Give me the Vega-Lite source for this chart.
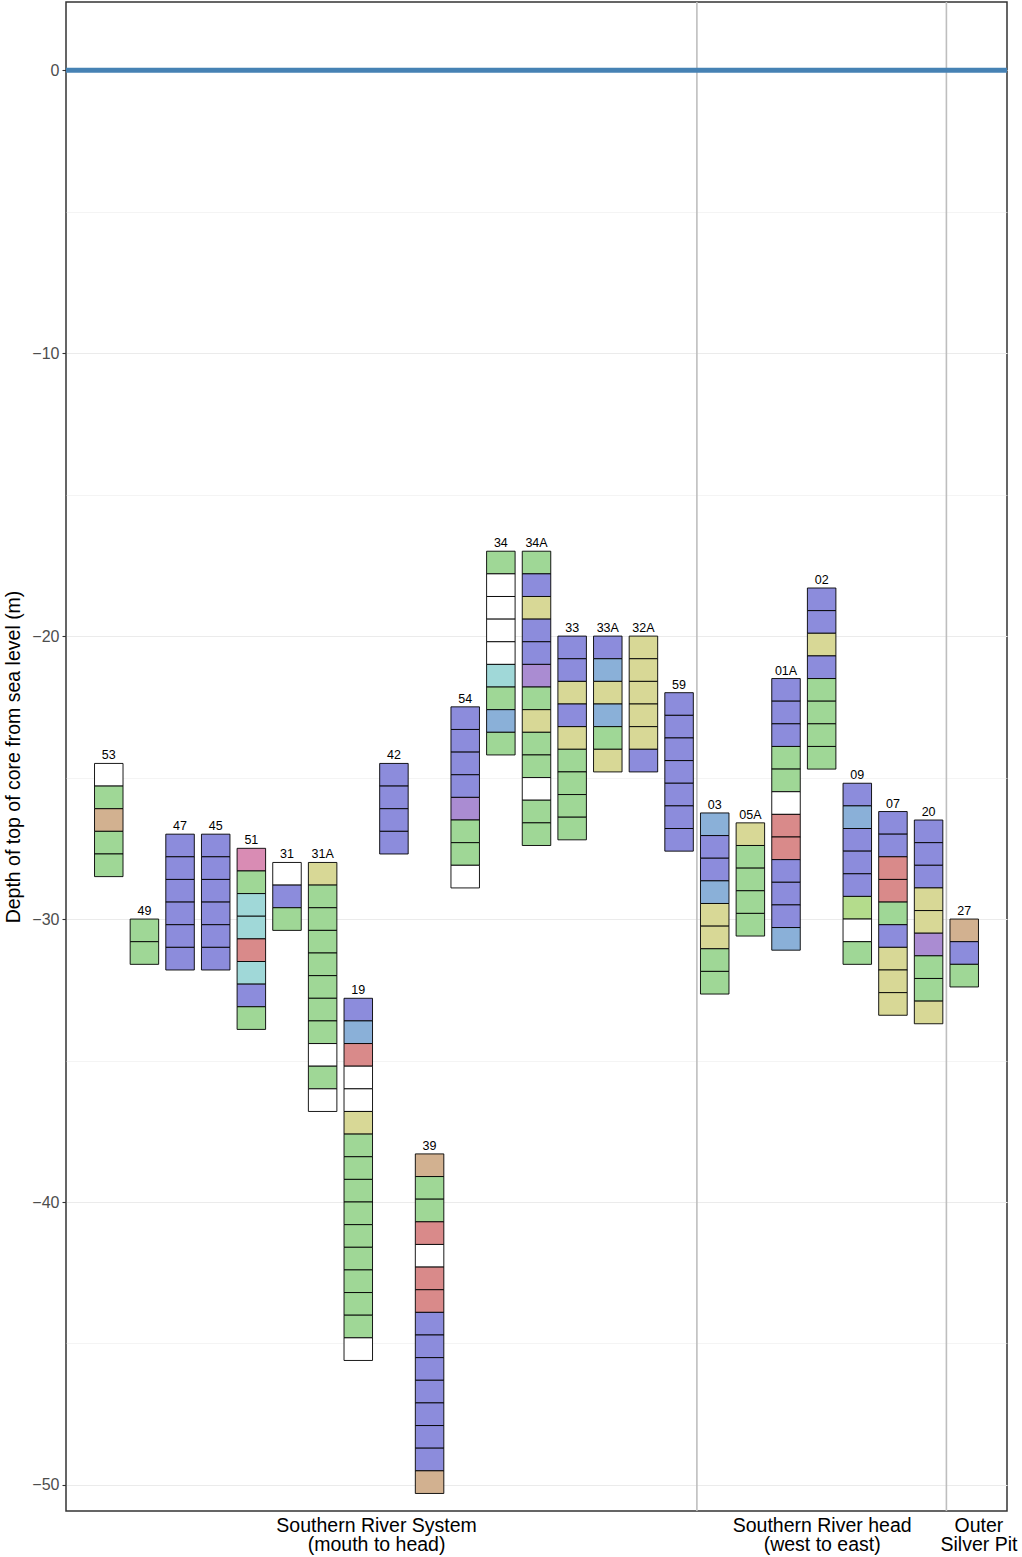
{
  "$schema": "https://vega.github.io/schema/vega-lite/v6.json",
  "width": 1022,
  "height": 1557,
  "autosize": {"type": "fit", "contains": "padding"},
  "padding": {"left": 3, "top": 1, "right": 7, "bottom": 3},
  "background": "#ffffff",
  "config": {
    "font": "Liberation Sans",
    "view": {"stroke": "#333333", "strokeWidth": 1.5}
  },
  "datasets": {
    "cores": [
      {"core": "53", "pos": 1, "top": -24.5},
      {"core": "49", "pos": 2, "top": -30.0},
      {"core": "47", "pos": 3, "top": -27.0},
      {"core": "45", "pos": 4, "top": -27.0},
      {"core": "51", "pos": 5, "top": -27.5},
      {"core": "31", "pos": 6, "top": -28.0},
      {"core": "31A", "pos": 7, "top": -28.0},
      {"core": "19", "pos": 8, "top": -32.8},
      {"core": "42", "pos": 9, "top": -24.5},
      {"core": "39", "pos": 10, "top": -38.3},
      {"core": "54", "pos": 11, "top": -22.5},
      {"core": "34", "pos": 12, "top": -17.0},
      {"core": "34A", "pos": 13, "top": -17.0},
      {"core": "33", "pos": 14, "top": -20.0},
      {"core": "33A", "pos": 15, "top": -20.0},
      {"core": "32A", "pos": 16, "top": -20.0},
      {"core": "59", "pos": 17, "top": -22.0},
      {"core": "03", "pos": 18, "top": -26.25},
      {"core": "05A", "pos": 19, "top": -26.6},
      {"core": "01A", "pos": 20, "top": -21.5},
      {"core": "02", "pos": 21, "top": -18.3},
      {"core": "09", "pos": 22, "top": -25.2},
      {"core": "07", "pos": 23, "top": -26.2},
      {"core": "20", "pos": 24, "top": -26.5},
      {"core": "27", "pos": 25, "top": -30.0}
    ],
    "boundaries": [
      {"between": "59 | 03", "at": 17.5},
      {"between": "20 | 27", "at": 24.5}
    ],
    "segments": [
      {"core": "53", "top": -24.5, "bottom": -25.3, "unit": "W"},
      {"core": "53", "top": -25.3, "bottom": -26.1, "unit": "G"},
      {"core": "53", "top": -26.1, "bottom": -26.9, "unit": "T"},
      {"core": "53", "top": -26.9, "bottom": -27.7, "unit": "G"},
      {"core": "53", "top": -27.7, "bottom": -28.5, "unit": "G"},

      {"core": "49", "top": -30.0, "bottom": -30.8, "unit": "G"},
      {"core": "49", "top": -30.8, "bottom": -31.6, "unit": "G"},

      {"core": "47", "top": -27.0, "bottom": -27.8, "unit": "P"},
      {"core": "47", "top": -27.8, "bottom": -28.6, "unit": "P"},
      {"core": "47", "top": -28.6, "bottom": -29.4, "unit": "P"},
      {"core": "47", "top": -29.4, "bottom": -30.2, "unit": "P"},
      {"core": "47", "top": -30.2, "bottom": -31.0, "unit": "P"},
      {"core": "47", "top": -31.0, "bottom": -31.8, "unit": "P"},

      {"core": "45", "top": -27.0, "bottom": -27.8, "unit": "P"},
      {"core": "45", "top": -27.8, "bottom": -28.6, "unit": "P"},
      {"core": "45", "top": -28.6, "bottom": -29.4, "unit": "P"},
      {"core": "45", "top": -29.4, "bottom": -30.2, "unit": "P"},
      {"core": "45", "top": -30.2, "bottom": -31.0, "unit": "P"},
      {"core": "45", "top": -31.0, "bottom": -31.8, "unit": "P"},

      {"core": "51", "top": -27.5, "bottom": -28.3, "unit": "K"},
      {"core": "51", "top": -28.3, "bottom": -29.1, "unit": "G"},
      {"core": "51", "top": -29.1, "bottom": -29.9, "unit": "C"},
      {"core": "51", "top": -29.9, "bottom": -30.7, "unit": "C"},
      {"core": "51", "top": -30.7, "bottom": -31.5, "unit": "R"},
      {"core": "51", "top": -31.5, "bottom": -32.3, "unit": "C"},
      {"core": "51", "top": -32.3, "bottom": -33.1, "unit": "P"},
      {"core": "51", "top": -33.1, "bottom": -33.9, "unit": "G"},

      {"core": "31", "top": -28.0, "bottom": -28.8, "unit": "W"},
      {"core": "31", "top": -28.8, "bottom": -29.6, "unit": "P"},
      {"core": "31", "top": -29.6, "bottom": -30.4, "unit": "G"},

      {"core": "31A", "top": -28.0, "bottom": -28.8, "unit": "Y"},
      {"core": "31A", "top": -28.8, "bottom": -29.6, "unit": "G"},
      {"core": "31A", "top": -29.6, "bottom": -30.4, "unit": "G"},
      {"core": "31A", "top": -30.4, "bottom": -31.2, "unit": "G"},
      {"core": "31A", "top": -31.2, "bottom": -32.0, "unit": "G"},
      {"core": "31A", "top": -32.0, "bottom": -32.8, "unit": "G"},
      {"core": "31A", "top": -32.8, "bottom": -33.6, "unit": "G"},
      {"core": "31A", "top": -33.6, "bottom": -34.4, "unit": "G"},
      {"core": "31A", "top": -34.4, "bottom": -35.2, "unit": "W"},
      {"core": "31A", "top": -35.2, "bottom": -36.0, "unit": "G"},
      {"core": "31A", "top": -36.0, "bottom": -36.8, "unit": "W"},

      {"core": "19", "top": -32.8, "bottom": -33.6, "unit": "P"},
      {"core": "19", "top": -33.6, "bottom": -34.4, "unit": "S"},
      {"core": "19", "top": -34.4, "bottom": -35.2, "unit": "R"},
      {"core": "19", "top": -35.2, "bottom": -36.0, "unit": "W"},
      {"core": "19", "top": -36.0, "bottom": -36.8, "unit": "W"},
      {"core": "19", "top": -36.8, "bottom": -37.6, "unit": "Y"},
      {"core": "19", "top": -37.6, "bottom": -38.4, "unit": "G"},
      {"core": "19", "top": -38.4, "bottom": -39.2, "unit": "G"},
      {"core": "19", "top": -39.2, "bottom": -40.0, "unit": "G"},
      {"core": "19", "top": -40.0, "bottom": -40.8, "unit": "G"},
      {"core": "19", "top": -40.8, "bottom": -41.6, "unit": "G"},
      {"core": "19", "top": -41.6, "bottom": -42.4, "unit": "G"},
      {"core": "19", "top": -42.4, "bottom": -43.2, "unit": "G"},
      {"core": "19", "top": -43.2, "bottom": -44.0, "unit": "G"},
      {"core": "19", "top": -44.0, "bottom": -44.8, "unit": "G"},
      {"core": "19", "top": -44.8, "bottom": -45.6, "unit": "W"},

      {"core": "42", "top": -24.5, "bottom": -25.3, "unit": "P"},
      {"core": "42", "top": -25.3, "bottom": -26.1, "unit": "P"},
      {"core": "42", "top": -26.1, "bottom": -26.9, "unit": "P"},
      {"core": "42", "top": -26.9, "bottom": -27.7, "unit": "P"},

      {"core": "39", "top": -38.3, "bottom": -39.1, "unit": "T"},
      {"core": "39", "top": -39.1, "bottom": -39.9, "unit": "G"},
      {"core": "39", "top": -39.9, "bottom": -40.7, "unit": "G"},
      {"core": "39", "top": -40.7, "bottom": -41.5, "unit": "R"},
      {"core": "39", "top": -41.5, "bottom": -42.3, "unit": "W"},
      {"core": "39", "top": -42.3, "bottom": -43.1, "unit": "R"},
      {"core": "39", "top": -43.1, "bottom": -43.9, "unit": "R"},
      {"core": "39", "top": -43.9, "bottom": -44.7, "unit": "P"},
      {"core": "39", "top": -44.7, "bottom": -45.5, "unit": "P"},
      {"core": "39", "top": -45.5, "bottom": -46.3, "unit": "P"},
      {"core": "39", "top": -46.3, "bottom": -47.1, "unit": "P"},
      {"core": "39", "top": -47.1, "bottom": -47.9, "unit": "P"},
      {"core": "39", "top": -47.9, "bottom": -48.7, "unit": "P"},
      {"core": "39", "top": -48.7, "bottom": -49.5, "unit": "P"},
      {"core": "39", "top": -49.5, "bottom": -50.3, "unit": "T"},

      {"core": "54", "top": -22.5, "bottom": -23.3, "unit": "P"},
      {"core": "54", "top": -23.3, "bottom": -24.1, "unit": "P"},
      {"core": "54", "top": -24.1, "bottom": -24.9, "unit": "P"},
      {"core": "54", "top": -24.9, "bottom": -25.7, "unit": "P"},
      {"core": "54", "top": -25.7, "bottom": -26.5, "unit": "L"},
      {"core": "54", "top": -26.5, "bottom": -27.3, "unit": "G"},
      {"core": "54", "top": -27.3, "bottom": -28.1, "unit": "G"},
      {"core": "54", "top": -28.1, "bottom": -28.9, "unit": "W"},

      {"core": "34", "top": -17.0, "bottom": -17.8, "unit": "G"},
      {"core": "34", "top": -17.8, "bottom": -18.6, "unit": "W"},
      {"core": "34", "top": -18.6, "bottom": -19.4, "unit": "W"},
      {"core": "34", "top": -19.4, "bottom": -20.2, "unit": "W"},
      {"core": "34", "top": -20.2, "bottom": -21.0, "unit": "W"},
      {"core": "34", "top": -21.0, "bottom": -21.8, "unit": "C"},
      {"core": "34", "top": -21.8, "bottom": -22.6, "unit": "G"},
      {"core": "34", "top": -22.6, "bottom": -23.4, "unit": "S"},
      {"core": "34", "top": -23.4, "bottom": -24.2, "unit": "G"},

      {"core": "34A", "top": -17.0, "bottom": -17.8, "unit": "G"},
      {"core": "34A", "top": -17.8, "bottom": -18.6, "unit": "P"},
      {"core": "34A", "top": -18.6, "bottom": -19.4, "unit": "Y"},
      {"core": "34A", "top": -19.4, "bottom": -20.2, "unit": "P"},
      {"core": "34A", "top": -20.2, "bottom": -21.0, "unit": "P"},
      {"core": "34A", "top": -21.0, "bottom": -21.8, "unit": "L"},
      {"core": "34A", "top": -21.8, "bottom": -22.6, "unit": "G"},
      {"core": "34A", "top": -22.6, "bottom": -23.4, "unit": "Y"},
      {"core": "34A", "top": -23.4, "bottom": -24.2, "unit": "G"},
      {"core": "34A", "top": -24.2, "bottom": -25.0, "unit": "G"},
      {"core": "34A", "top": -25.0, "bottom": -25.8, "unit": "W"},
      {"core": "34A", "top": -25.8, "bottom": -26.6, "unit": "G"},
      {"core": "34A", "top": -26.6, "bottom": -27.4, "unit": "G"},

      {"core": "33", "top": -20.0, "bottom": -20.8, "unit": "P"},
      {"core": "33", "top": -20.8, "bottom": -21.6, "unit": "P"},
      {"core": "33", "top": -21.6, "bottom": -22.4, "unit": "Y"},
      {"core": "33", "top": -22.4, "bottom": -23.2, "unit": "P"},
      {"core": "33", "top": -23.2, "bottom": -24.0, "unit": "Y"},
      {"core": "33", "top": -24.0, "bottom": -24.8, "unit": "G"},
      {"core": "33", "top": -24.8, "bottom": -25.6, "unit": "G"},
      {"core": "33", "top": -25.6, "bottom": -26.4, "unit": "G"},
      {"core": "33", "top": -26.4, "bottom": -27.2, "unit": "G"},

      {"core": "33A", "top": -20.0, "bottom": -20.8, "unit": "P"},
      {"core": "33A", "top": -20.8, "bottom": -21.6, "unit": "S"},
      {"core": "33A", "top": -21.6, "bottom": -22.4, "unit": "Y"},
      {"core": "33A", "top": -22.4, "bottom": -23.2, "unit": "S"},
      {"core": "33A", "top": -23.2, "bottom": -24.0, "unit": "G"},
      {"core": "33A", "top": -24.0, "bottom": -24.8, "unit": "Y"},

      {"core": "32A", "top": -20.0, "bottom": -20.8, "unit": "Y"},
      {"core": "32A", "top": -20.8, "bottom": -21.6, "unit": "Y"},
      {"core": "32A", "top": -21.6, "bottom": -22.4, "unit": "Y"},
      {"core": "32A", "top": -22.4, "bottom": -23.2, "unit": "Y"},
      {"core": "32A", "top": -23.2, "bottom": -24.0, "unit": "Y"},
      {"core": "32A", "top": -24.0, "bottom": -24.8, "unit": "P"},

      {"core": "59", "top": -22.0, "bottom": -22.8, "unit": "P"},
      {"core": "59", "top": -22.8, "bottom": -23.6, "unit": "P"},
      {"core": "59", "top": -23.6, "bottom": -24.4, "unit": "P"},
      {"core": "59", "top": -24.4, "bottom": -25.2, "unit": "P"},
      {"core": "59", "top": -25.2, "bottom": -26.0, "unit": "P"},
      {"core": "59", "top": -26.0, "bottom": -26.8, "unit": "P"},
      {"core": "59", "top": -26.8, "bottom": -27.6, "unit": "P"},

      {"core": "03", "top": -26.25, "bottom": -27.05, "unit": "S"},
      {"core": "03", "top": -27.05, "bottom": -27.85, "unit": "P"},
      {"core": "03", "top": -27.85, "bottom": -28.65, "unit": "P"},
      {"core": "03", "top": -28.65, "bottom": -29.45, "unit": "S"},
      {"core": "03", "top": -29.45, "bottom": -30.25, "unit": "Y"},
      {"core": "03", "top": -30.25, "bottom": -31.05, "unit": "Y"},
      {"core": "03", "top": -31.05, "bottom": -31.85, "unit": "G"},
      {"core": "03", "top": -31.85, "bottom": -32.65, "unit": "G"},

      {"core": "05A", "top": -26.6, "bottom": -27.4, "unit": "Y"},
      {"core": "05A", "top": -27.4, "bottom": -28.2, "unit": "G"},
      {"core": "05A", "top": -28.2, "bottom": -29.0, "unit": "G"},
      {"core": "05A", "top": -29.0, "bottom": -29.8, "unit": "G"},
      {"core": "05A", "top": -29.8, "bottom": -30.6, "unit": "G"},

      {"core": "01A", "top": -21.5, "bottom": -22.3, "unit": "P"},
      {"core": "01A", "top": -22.3, "bottom": -23.1, "unit": "P"},
      {"core": "01A", "top": -23.1, "bottom": -23.9, "unit": "P"},
      {"core": "01A", "top": -23.9, "bottom": -24.7, "unit": "G"},
      {"core": "01A", "top": -24.7, "bottom": -25.5, "unit": "G"},
      {"core": "01A", "top": -25.5, "bottom": -26.3, "unit": "W"},
      {"core": "01A", "top": -26.3, "bottom": -27.1, "unit": "R"},
      {"core": "01A", "top": -27.1, "bottom": -27.9, "unit": "R"},
      {"core": "01A", "top": -27.9, "bottom": -28.7, "unit": "P"},
      {"core": "01A", "top": -28.7, "bottom": -29.5, "unit": "P"},
      {"core": "01A", "top": -29.5, "bottom": -30.3, "unit": "P"},
      {"core": "01A", "top": -30.3, "bottom": -31.1, "unit": "S"},

      {"core": "02", "top": -18.3, "bottom": -19.1, "unit": "P"},
      {"core": "02", "top": -19.1, "bottom": -19.9, "unit": "P"},
      {"core": "02", "top": -19.9, "bottom": -20.7, "unit": "Y"},
      {"core": "02", "top": -20.7, "bottom": -21.5, "unit": "P"},
      {"core": "02", "top": -21.5, "bottom": -22.3, "unit": "G"},
      {"core": "02", "top": -22.3, "bottom": -23.1, "unit": "G"},
      {"core": "02", "top": -23.1, "bottom": -23.9, "unit": "G"},
      {"core": "02", "top": -23.9, "bottom": -24.7, "unit": "G"},

      {"core": "09", "top": -25.2, "bottom": -26.0, "unit": "P"},
      {"core": "09", "top": -26.0, "bottom": -26.8, "unit": "S"},
      {"core": "09", "top": -26.8, "bottom": -27.6, "unit": "P"},
      {"core": "09", "top": -27.6, "bottom": -28.4, "unit": "P"},
      {"core": "09", "top": -28.4, "bottom": -29.2, "unit": "P"},
      {"core": "09", "top": -29.2, "bottom": -30.0, "unit": "V"},
      {"core": "09", "top": -30.0, "bottom": -30.8, "unit": "W"},
      {"core": "09", "top": -30.8, "bottom": -31.6, "unit": "G"},

      {"core": "07", "top": -26.2, "bottom": -27.0, "unit": "P"},
      {"core": "07", "top": -27.0, "bottom": -27.8, "unit": "P"},
      {"core": "07", "top": -27.8, "bottom": -28.6, "unit": "R"},
      {"core": "07", "top": -28.6, "bottom": -29.4, "unit": "R"},
      {"core": "07", "top": -29.4, "bottom": -30.2, "unit": "G"},
      {"core": "07", "top": -30.2, "bottom": -31.0, "unit": "P"},
      {"core": "07", "top": -31.0, "bottom": -31.8, "unit": "Y"},
      {"core": "07", "top": -31.8, "bottom": -32.6, "unit": "Y"},
      {"core": "07", "top": -32.6, "bottom": -33.4, "unit": "Y"},

      {"core": "20", "top": -26.5, "bottom": -27.3, "unit": "P"},
      {"core": "20", "top": -27.3, "bottom": -28.1, "unit": "P"},
      {"core": "20", "top": -28.1, "bottom": -28.9, "unit": "P"},
      {"core": "20", "top": -28.9, "bottom": -29.7, "unit": "Y"},
      {"core": "20", "top": -29.7, "bottom": -30.5, "unit": "Y"},
      {"core": "20", "top": -30.5, "bottom": -31.3, "unit": "L"},
      {"core": "20", "top": -31.3, "bottom": -32.1, "unit": "G"},
      {"core": "20", "top": -32.1, "bottom": -32.9, "unit": "G"},
      {"core": "20", "top": -32.9, "bottom": -33.7, "unit": "Y"},

      {"core": "27", "top": -30.0, "bottom": -30.8, "unit": "T"},
      {"core": "27", "top": -30.8, "bottom": -31.6, "unit": "P"},
      {"core": "27", "top": -31.6, "bottom": -32.4, "unit": "G"}
    ]
  },
  "layer": [
    {
      "data": {"name": "boundaries"},
      "mark": {"type": "rule", "color": "#bebebe", "strokeWidth": 1.6},
      "encoding": {
        "x": {
          "field": "at", "type": "quantitative", "title": null,
          "scale": {"domain": [-0.2, 26.2], "nice": false, "zero": false, "padding": 0},
          "axis": {
            "values": [8.5, 21, 25.4],
            "labelExpr": "datum.value < 10 ? ['Southern River System', '(mouth to head)'] : datum.value < 23 ? ['Southern River head', '(west to east)'] : ['Outer', 'Silver Pit']",
            "grid": false, "ticks": false, "domain": false,
            "labelFontSize": 19.5, "labelColor": "#000000", "labelLineHeight": 19.5,
            "labelPadding": 5, "labelFlush": false, "labelOverlap": false, "labelBound": false,
            "labelLimit": 0, "labelAlign": "center", "labelBaseline": "top"
          }
        }
      }
    },
    {
      "data": {"values": [{"level": "sea level"}]},
      "mark": {"type": "rule", "color": "#4682b4", "strokeWidth": 5},
      "encoding": {
        "y": {
          "datum": 0, "type": "quantitative",
          "title": "Depth of top of core from sea level (m)",
          "scale": {"domain": [-50.92, 2.41], "nice": false, "zero": false},
          "axis": {
            "values": [-50, -45, -40, -35, -30, -25, -20, -15, -10, -5, 0],
            "labelExpr": "datum.value % 10 == 0 ? datum.label : ''",
            "grid": true,
            "gridColor": "#ebebeb",
            "gridWidth": {"condition": {"test": "datum.value % 10 == 0", "value": 1.1}, "value": 0.55},
            "tickOpacity": {"condition": {"test": "datum.value % 10 == 0", "value": 1}, "value": 0},
            "tickColor": "#333333", "tickSize": 4, "tickWidth": 1.1,
            "domain": false,
            "labelFontSize": 16, "labelColor": "#4d4d4d", "labelPadding": 3,
            "titleFontSize": 19.5, "titleFontWeight": "normal", "titleColor": "#000000",
            "titlePadding": 8
          }
        }
      }
    },
    {
      "data": {"name": "segments"},
      "transform": [
        {"lookup": "core", "from": {"data": {"name": "cores"}, "key": "core", "fields": ["pos"]}}
      ],
      "mark": {"type": "bar", "orient": "vertical", "width": 28.5, "stroke": "#000000", "strokeWidth": 0.9},
      "encoding": {
        "x": {"field": "pos", "type": "quantitative", "title": null,
              "scale": {"domain": [-0.2, 26.2], "nice": false, "zero": false, "padding": 0}},
        "y": {"field": "top", "type": "quantitative",
              "title": "Depth of top of core from sea level (m)",
              "scale": {"domain": [-50.92, 2.41], "nice": false, "zero": false}},
        "y2": {"field": "bottom"},
        "fill": {
          "field": "unit", "type": "nominal", "legend": null,
          "scale": {
            "domain": ["W", "G", "T", "P", "K", "C", "R", "Y", "S", "L", "V"],
            "range": ["#ffffff", "#9fd796", "#d2b190", "#8c8cdc", "#d98cb4", "#a0d8d8", "#d98a8a", "#d8d896", "#8ab0d8", "#aa8cd2", "#b4dc8c"]
          }
        }
      }
    },
    {
      "data": {"name": "cores"},
      "mark": {"type": "text", "baseline": "alphabetic", "align": "center", "dy": -4, "fontSize": 12.5, "color": "#000000"},
      "encoding": {
        "x": {"field": "pos", "type": "quantitative", "title": null,
              "scale": {"domain": [-0.2, 26.2], "nice": false, "zero": false, "padding": 0}},
        "y": {"field": "top", "type": "quantitative",
              "title": "Depth of top of core from sea level (m)",
              "scale": {"domain": [-50.92, 2.41], "nice": false, "zero": false}},
        "text": {"field": "core"}
      }
    }
  ]
}
